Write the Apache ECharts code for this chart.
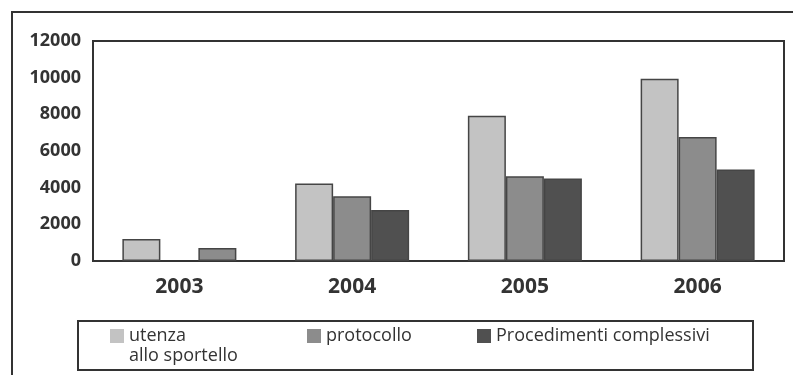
<!DOCTYPE html>
<html>
<head>
<meta charset="utf-8">
<script src="https://cdn.jsdelivr.net/npm/echarts@6/dist/echarts.min.js"></script>
<style>
html,body{margin:0;padding:0;background:#fff;}
#chart{width:793px;height:375px;}
</style>
</head>
<body>
<div id="chart"></div>
<script>
var categories = ['2003', '2004', '2005', '2006'];
var seriesNames = ['utenza allo sportello', 'protocollo', 'Procedimenti complessivi'];
var utenza = [1200, 4230, 7920, 9940];
var protocollo = [null, 3530, 4620, 6760];
var procedimenti = [710, 2780, 4500, 4990];
var yTicks = [0, 2000, 4000, 6000, 8000, 10000, 12000];

var colors = ['#c3c3c3', '#8c8c8c', '#505050'];
var FONT = '"Open Sans", sans-serif';
var chart = echarts.init(document.getElementById('chart'), null, {renderer: 'canvas'});

function barSeries(name, values, color, overrides) {
  return {
    name: name,
    type: 'bar',
    barWidth: 38,
    barGap: '0%',
    itemStyle: {color: color, borderColor: '#454545', borderWidth: 1.5},
    data: values.map(function (v, i) {
      if (overrides && overrides[i]) return {value: v, itemStyle: overrides[i]};
      return v;
    })
  };
}

function legendFor(name, left, top, fmt) {
  return {
    data: [name],
    left: left,
    top: top,
    padding: 0,
    itemWidth: 14,
    itemHeight: 14,
    itemGap: 0,
    selectedMode: false,
    icon: 'rect',
    itemStyle: {borderWidth: 0},
    formatter: fmt,
    textStyle: {fontFamily: FONT, fontSize: 18, color: '#333', lineHeight: 20}
  };
}

var option = {
  animation: false,
  backgroundColor: '#fff',
  graphic: [
    {type: 'rect', shape: {x: 12, y: 12, width: 800, height: 400}, style: {fill: 'none', stroke: '#333', lineWidth: 2}, silent: true},
    {type: 'rect', shape: {x: 78, y: 321, width: 675, height: 49}, style: {fill: 'none', stroke: '#333', lineWidth: 2}, silent: true}
  ],
  grid: {left: 93, right: 9, top: 41, bottom: 114, show: true, borderColor: '#333', borderWidth: 2, backgroundColor: 'transparent'},
  legend: [
    legendFor(seriesNames[0], 110, 306, function () { return ' \nutenza\nallo sportello'; }),
    legendFor(seriesNames[1], 307, 326),
    legendFor(seriesNames[2], 477, 326)
  ],
  xAxis: {
    type: 'category',
    data: categories,
    axisLine: {show: true, lineStyle: {color: '#333', width: 2}},
    axisTick: {show: false},
    axisLabel: {fontFamily: FONT, fontSize: 21, fontWeight: 'bold', color: '#333', margin: 16}
  },
  yAxis: {
    type: 'value',
    min: yTicks[0],
    max: yTicks[yTicks.length - 1],
    interval: yTicks[1] - yTicks[0],
    axisLine: {show: true, lineStyle: {color: '#333', width: 2}},
    axisTick: {show: false},
    splitLine: {show: false},
    axisLabel: {fontFamily: FONT, fontSize: 18, fontWeight: 'bold', color: '#333', margin: 12,
      formatter: function (v) { return String(v); }}
  },
  series: [
    barSeries(seriesNames[0], utenza, colors[0]),
    barSeries(seriesNames[1], protocollo, colors[1]),
    barSeries(seriesNames[2], procedimenti, colors[2], {0: {color: colors[1]}})
  ]
};
chart.setOption(option);
</script>
</body>
</html>
